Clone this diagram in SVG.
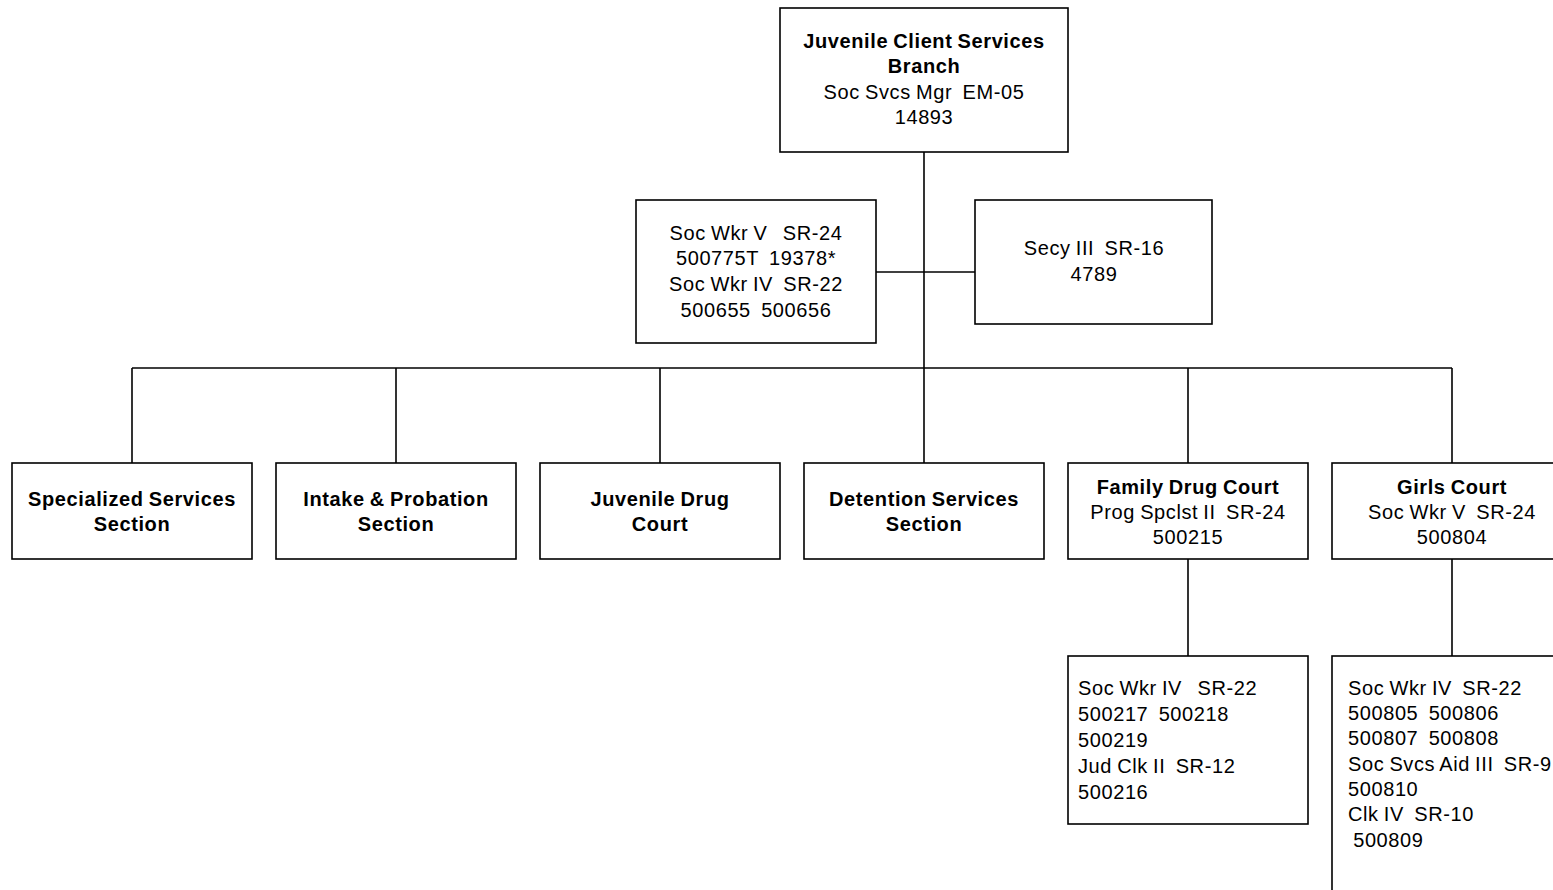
<svg xmlns="http://www.w3.org/2000/svg" width="1553" height="890" viewBox="0 0 1553 890" xml:space="preserve">
<style>
rect{fill:#fff;stroke:#000;stroke-width:1.6}
line{stroke:#000;stroke-width:1.6}
text{font-family:"Liberation Sans",Arial,sans-serif;font-size:20px;letter-spacing:0.6px;word-spacing:-1px;fill:#000;white-space:pre}
.c{text-anchor:middle}
.b{font-weight:bold}
</style>
<rect x="0" y="0" width="1553" height="890" style="stroke:none"/>
<g id="connectors">
<line x1="924" y1="152" x2="924" y2="368"/>
<line x1="876" y1="272" x2="975" y2="272"/>
<line x1="132" y1="368" x2="1452" y2="368"/>
<line x1="132" y1="368" x2="132" y2="463"/>
<line x1="396" y1="368" x2="396" y2="463"/>
<line x1="660" y1="368" x2="660" y2="463"/>
<line x1="924" y1="368" x2="924" y2="463"/>
<line x1="1188" y1="368" x2="1188" y2="463"/>
<line x1="1452" y1="368" x2="1452" y2="463"/>
<line x1="1188" y1="559" x2="1188" y2="656"/>
<line x1="1452" y1="559" x2="1452" y2="656"/>
</g>
<g id="branch">
<rect x="780" y="8" width="288" height="144"/>
<text class="c b" x="924" y="48">Juvenile Client Services</text>
<text class="c b" x="924" y="73">Branch</text>
<text class="c" x="924" y="99">Soc Svcs Mgr  EM-05</text>
<text class="c" x="924" y="124">14893</text>
</g>
<g id="socwkr">
<rect x="636" y="200" width="240" height="143"/>
<text class="c" x="756" y="240">Soc Wkr V   SR-24</text>
<text class="c" x="756" y="265">500775T  19378*</text>
<text class="c" x="756" y="291">Soc Wkr IV  SR-22</text>
<text class="c" x="756" y="317">500655  500656</text>
</g>
<g id="secy">
<rect x="975" y="200" width="237" height="124"/>
<text class="c" x="1094" y="255">Secy III  SR-16</text>
<text class="c" x="1094" y="281">4789</text>
</g>
<g id="specialized">
<rect x="12" y="463" width="240" height="96"/>
<text class="c b" x="132" y="506">Specialized Services</text>
<text class="c b" x="132" y="531">Section</text>
</g>
<g id="intake">
<rect x="276" y="463" width="240" height="96"/>
<text class="c b" x="396" y="506">Intake &amp; Probation</text>
<text class="c b" x="396" y="531">Section</text>
</g>
<g id="jdc">
<rect x="540" y="463" width="240" height="96"/>
<text class="c b" x="660" y="506">Juvenile Drug</text>
<text class="c b" x="660" y="531">Court</text>
</g>
<g id="detention">
<rect x="804" y="463" width="240" height="96"/>
<text class="c b" x="924" y="506">Detention Services</text>
<text class="c b" x="924" y="531">Section</text>
</g>
<g id="fdc">
<rect x="1068" y="463" width="240" height="96"/>
<text class="c b" x="1188" y="494">Family Drug Court</text>
<text class="c" x="1188" y="519">Prog Spclst II  SR-24</text>
<text class="c" x="1188" y="544">500215</text>
</g>
<g id="girls">
<rect x="1332" y="463" width="240" height="96"/>
<text class="c b" x="1452" y="494">Girls Court</text>
<text class="c" x="1452" y="519">Soc Wkr V  SR-24</text>
<text class="c" x="1452" y="544">500804</text>
</g>
<g id="fdc-staff">
<rect x="1068" y="656" width="240" height="168"/>
<text x="1078" y="695">Soc Wkr IV   SR-22</text>
<text x="1078" y="721">500217  500218</text>
<text x="1078" y="747">500219</text>
<text x="1078" y="773">Jud Clk II  SR-12</text>
<text x="1078" y="799">500216</text>
</g>
<g id="girls-staff">
<rect x="1332" y="656" width="240" height="260"/>
<text x="1348" y="695">Soc Wkr IV  SR-22</text>
<text x="1348" y="720">500805  500806</text>
<text x="1348" y="745">500807  500808</text>
<text x="1348" y="771">Soc Svcs Aid III  SR-9</text>
<text x="1348" y="796">500810</text>
<text x="1348" y="821">Clk IV  SR-10</text>
<text x="1348" y="847"> 500809</text>
</g>
</svg>
